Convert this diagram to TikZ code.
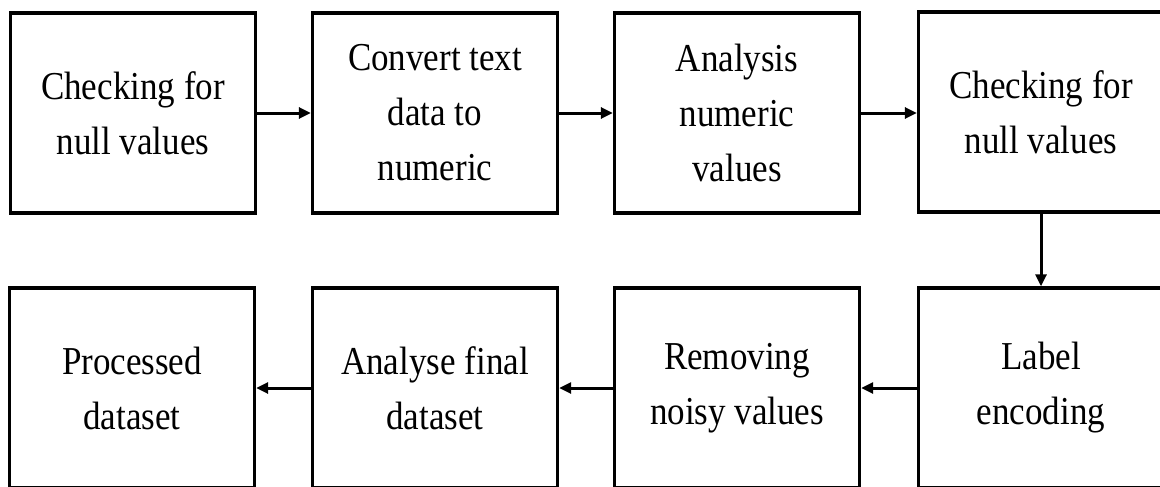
\documentclass[tikz,border=0pt]{standalone}
\usepackage{fontspec}
\setmainfont{Liberation Serif}
\usetikzlibrary{arrows.meta}
\newcommand{\vsl}[1]{\scalebox{1}[1.13]{#1}}
\tikzset{
  stepbox/.style={draw=black, line width=3.4pt, fill=white, minimum width=245pt, minimum height=200pt,
    inner sep=0pt, align=center, font=\fontsize{35}{55}\selectfont},
  arr/.style={line width=3pt, -{Triangle[length=12pt,width=11pt]}}
}
\begin{document}
\begin{tikzpicture}[x=1pt,y=-1pt]
\useasboundingbox (0,0) rectangle (1160,487);
\clip (0,0) rectangle (1160,487);
\fill[white] (0,0) rectangle (1160,487);
% top row
\node[stepbox] (b1) at (133,113) {\vsl{Checking for}\\\vsl{null values}};
\node[stepbox] (b2) at (435,113) {\vsl{Convert text}\\\vsl{data to}\\\vsl{numeric}};
\node[stepbox] (b3) at (737,113) {\vsl{Analysis}\\\vsl{numeric}\\\vsl{values}};
\node[stepbox] (b4) at (1041,112) {\vsl{Checking for}\\\vsl{null values}};
% bottom row
\node[stepbox] (b5) at (132,388) {\vsl{Processed}\\\vsl{dataset}};
\node[stepbox] (b6) at (435,388) {\vsl{Analyse final}\\\vsl{dataset}};
\node[stepbox] (b7) at (737,388) {\vsl{Removing}\\\vsl{noisy values}};
\node[stepbox] (b8) at (1041,388) {\vsl{Label}\\\vsl{encoding}};
% connectors
\draw[arr] (b1.east) -- (b2.west);
\draw[arr] (b2.east) -- (b3.west);
\draw[arr] (b3.east) -- (b4.west |- b3.east);
\draw[arr] (b4.south) -- (b8.north);
\draw[arr] (b8.west) -- (b7.east);
\draw[arr] (b7.west) -- (b6.east);
\draw[arr] (b6.west) -- (b5.east);
\end{tikzpicture}
\end{document}
